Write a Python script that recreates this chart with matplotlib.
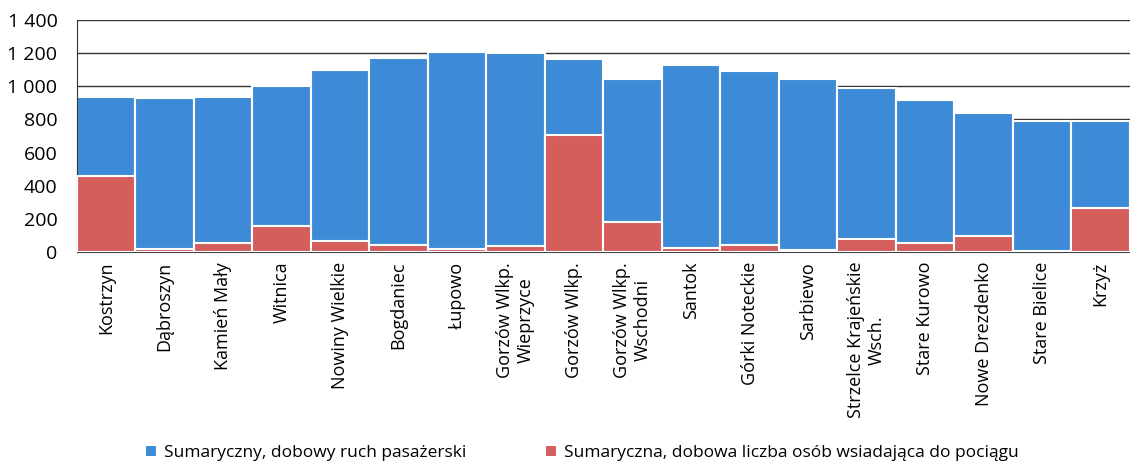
import numpy as np
import matplotlib
matplotlib.use('Agg')
import matplotlib.pyplot as plt
from matplotlib.ticker import FuncFormatter

stations = ['Kostrzyn', 'Dąbroszyn', 'Kamień Mały', 'Witnica', 'Nowiny Wielkie',
            'Bogdaniec', 'Łupowo', 'Gorzów Wlkp.\nWieprzyce', 'Gorzów Wlkp.',
            'Gorzów Wlkp.\nWschodni', 'Santok', 'Górki Noteckie', 'Sarbiewo',
            'Strzelce Krajeńskie\nWsch.', 'Stare Kurowo', 'Nowe Drezdenko',
            'Stare Bielice', 'Krzyż']
ruch = [934, 928, 935, 1000, 1098, 1172, 1208, 1200, 1165, 1046, 1126, 1090,
        1045, 987, 916, 841, 792, 788]
wsiadajacy = [461, 20, 52, 160, 68, 42, 16, 38, 708, 182, 26, 40, 12, 76,
              56, 96, 5, 263]

label_blue = 'Sumaryczny, dobowy ruch pasażerski'
label_red = 'Sumaryczna, dobowa liczba osób wsiadająca do pociągu'

plt.rcParams['font.family'] = ['Open Sans', 'DejaVu Sans']

fig = plt.figure(figsize=(11.3, 4.72), dpi=100)
ax = fig.add_axes([0.068, 0.466, 0.932, 0.492])

x = np.arange(len(stations))
ax.bar(x, ruch, width=1.0, color='#3d8bd6', edgecolor='white', linewidth=1.5,
       label=label_blue, zorder=2)
ax.bar(x, wsiadajacy, width=1.0, color='#d35e5c', edgecolor='white', linewidth=1.5,
       label=label_red, zorder=3)

ax.set_xlim(-0.5, len(stations) - 0.5)
ax.set_ylim(0, 1400)
ax.set_yticks(np.arange(0, 1401, 200))
ax.yaxis.set_major_formatter(FuncFormatter(lambda v, p: f'{int(v):,}'.replace(',', ' ')))
ax.grid(axis='y', color='#333333', linewidth=1.0, zorder=0)
ax.set_axisbelow(True)

ax.set_xticks(x)
ax.set_xticklabels(stations, rotation=90, ha='center', va='top', fontsize=13,
                   multialignment='center')
ax.tick_params(axis='both', length=0)
ax.tick_params(axis='y', pad=14, labelsize=14)
ax.tick_params(axis='x', pad=7)

for s in ['top', 'right']:
    ax.spines[s].set_visible(False)
ax.spines['left'].set_color('#333333')
ax.spines['bottom'].set_color('#444444')

fig.legend(loc='lower center', bbox_to_anchor=(0.515, -0.01), ncol=2, frameon=False,
           fontsize=12.5, handlelength=0.7, handleheight=0.7, handletextpad=0.4,
           columnspacing=4.5)

fig.savefig('out.png', dpi=100)
